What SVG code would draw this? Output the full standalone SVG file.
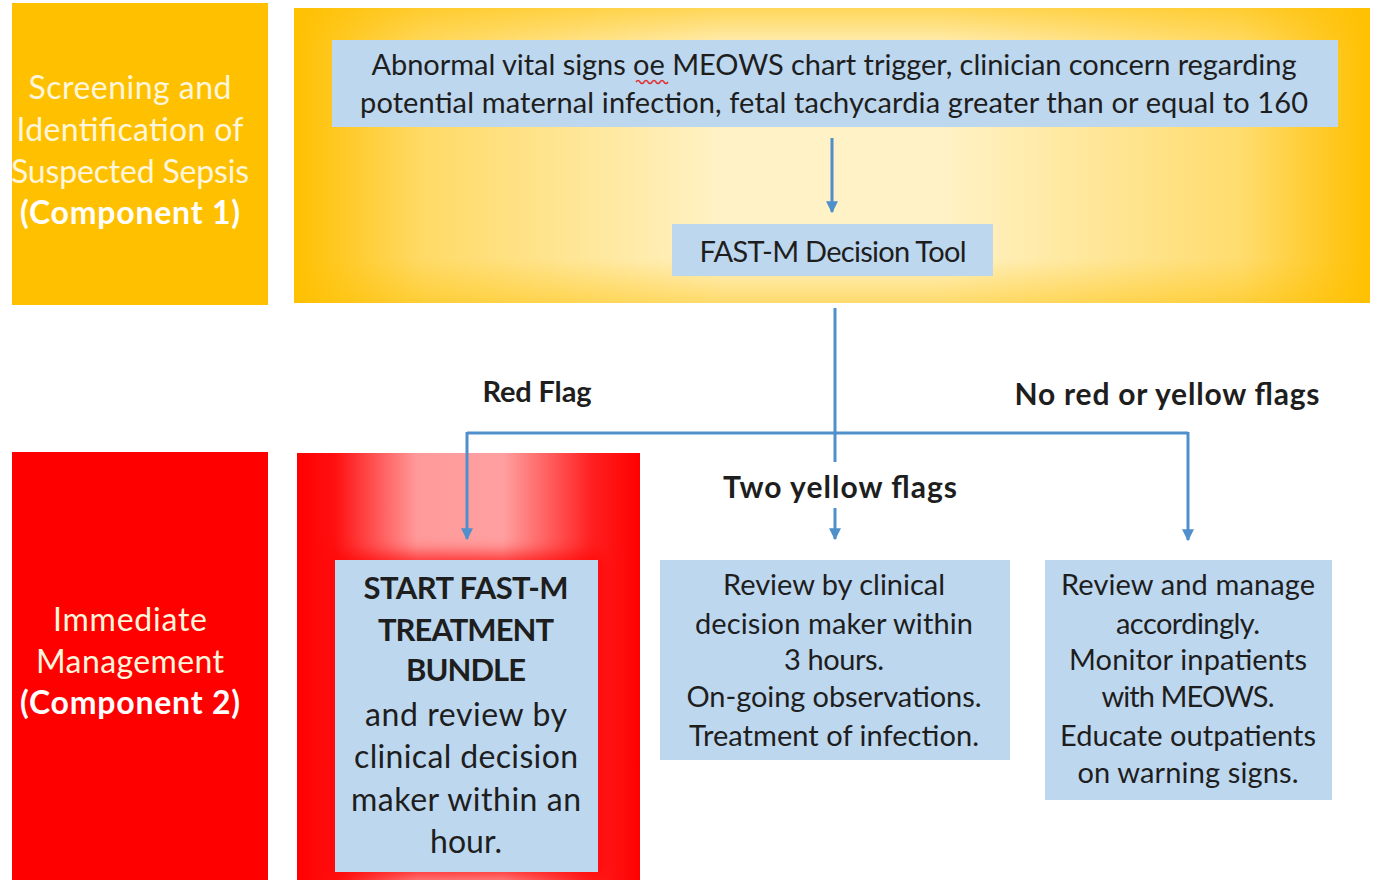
<svg xmlns="http://www.w3.org/2000/svg" width="1376" height="880" viewBox="0 0 1376 880">
<defs>
<linearGradient id="gTop" x1="0" y1="0" x2="1" y2="0">
<stop offset="0" stop-color="#FFC000"/>
<stop offset="0.12" stop-color="#FFDA66"/>
<stop offset="0.4" stop-color="#FFF2C6"/>
<stop offset="0.6" stop-color="#FFF2C6"/>
<stop offset="0.88" stop-color="#FFDC6E"/>
<stop offset="1" stop-color="#FFC000"/>
</linearGradient>
<linearGradient id="gTopV" x1="0" y1="0" x2="0" y2="1">
<stop offset="0" stop-color="#FFC000" stop-opacity="0.55"/>
<stop offset="0.15" stop-color="#FFC000" stop-opacity="0"/>
<stop offset="0.85" stop-color="#FFC000" stop-opacity="0"/>
<stop offset="1" stop-color="#FFC000" stop-opacity="0.45"/>
</linearGradient>
<linearGradient id="gRed" x1="0" y1="0" x2="1" y2="0">
<stop offset="0" stop-color="#FF0000"/>
<stop offset="0.11" stop-color="#FF1010"/>
<stop offset="0.35" stop-color="#FF9A9A"/>
<stop offset="0.6" stop-color="#FFA0A0"/>
<stop offset="0.86" stop-color="#FF2020"/>
<stop offset="1" stop-color="#FF0000"/>
</linearGradient>
<filter id="blur" x="-20%" y="-20%" width="140%" height="140%">
<feGaussianBlur stdDeviation="8"/>
</filter>
<marker id="ah" viewBox="0 0 10 10" refX="9" refY="5" markerWidth="4" markerHeight="4" orient="auto" markerUnits="strokeWidth">
<path d="M0,0 L10,5 L0,10 z" fill="#4F8FCB"/>
</marker>
<style>
.box{fill:#BDD7EE}
.t{font-family:Lato,"Open Sans","Liberation Sans",sans-serif;fill:#1E1E1E;text-anchor:middle}
.w{font-family:Lato,"Open Sans","Liberation Sans",sans-serif;fill:#FFF6DC;text-anchor:middle;font-size:32px}
.wb{font-weight:bold;fill:#FFFFFF}
.b{font-weight:bold}
.c{fill:none;stroke:#4F8FCB;stroke-width:3}
</style>
</defs>
<rect width="1376" height="880" fill="#FFFFFF"/>

<g id="lane1">
<rect x="12" y="3" width="256" height="302" fill="#FFC000"/>
<text class="w" x="130" y="99" textLength="203">Screening and</text>
<text class="w" x="130" y="141" textLength="227">Identification of</text>
<text class="w" x="130" y="183" textLength="238">Suspected Sepsis</text>
<text class="w wb" x="130" y="224" textLength="220">(Component 1)</text>
</g>

<g id="panel1">
<rect x="294" y="8" width="1076" height="295" fill="url(#gTop)"/>
<rect x="294" y="8" width="1076" height="295" fill="url(#gTopV)"/>
</g>

<g id="lane2">
<rect x="12" y="452" width="256" height="428" fill="#FF0000"/>
<text class="w" x="130" y="631" textLength="154">Immediate</text>
<text class="w" x="130" y="673" textLength="188">Management</text>
<text class="w wb" x="130" y="714" textLength="220">(Component 2)</text>
</g>

<g id="panel2">
<rect x="297" y="453" width="343" height="427" fill="url(#gRed)"/>
<rect x="332" y="554" width="270" height="324" fill="#FF0000" opacity="0.7" filter="url(#blur)"/>
</g>

<g id="trigger">
<rect class="box" x="332" y="40" width="1006" height="87"/>
<text class="t" font-size="29" x="834" y="75" textLength="925">Abnormal vital signs oe MEOWS chart trigger, clinician concern regarding</text>
<text class="t" font-size="29" x="834" y="113" textLength="948">potential maternal infection, fetal tachycardia greater than or equal to 160</text>
<path d="M636,82 q2,-3 4,0 t4,0 t4,0 t4,0 t4,0 t4,0 t4,0 t4,0" fill="none" stroke="#E03030" stroke-width="1.5"/>
</g>

<g id="decision">
<rect class="box" x="672" y="224" width="321" height="52"/>
<text class="t" font-size="29" x="833" y="262" textLength="267">FAST-M Decision Tool</text>
</g>

<g id="connectors">
<line class="c" x1="832" y1="138" x2="832" y2="212" marker-end="url(#ah)"/>
<line class="c" x1="835" y1="308" x2="835" y2="462"/>
<polyline class="c" points="467,433 1188,433"/>
<line class="c" x1="467" y1="432" x2="467" y2="539" marker-end="url(#ah)"/>
<line class="c" x1="835" y1="508" x2="835" y2="539" marker-end="url(#ah)"/>
<line class="c" x1="1188" y1="432" x2="1188" y2="540" marker-end="url(#ah)"/>
</g>

<g id="labels">
<text class="t b" font-size="29" x="537" y="402" textLength="109">Red Flag</text>
<text class="t b" font-size="30" x="1167" y="405" textLength="305">No red or yellow flags</text>
<text class="t b" font-size="30" x="840" y="498" textLength="234">Two yellow flags</text>
</g>

<g id="redflag">
<rect class="box" x="335" y="560" width="263" height="312"/>
<text class="t b" font-size="31" x="466" y="599" textLength="205">START FAST-M</text>
<text class="t b" font-size="31" x="466" y="641" textLength="176">TREATMENT</text>
<text class="t b" font-size="31" x="466" y="681" textLength="120">BUNDLE</text>
<text class="t" font-size="32" x="466" y="726" textLength="202">and review by</text>
<text class="t" font-size="32" x="466" y="768" textLength="224">clinical decision</text>
<text class="t" font-size="32" x="466" y="811" textLength="230">maker within an</text>
<text class="t" font-size="32" x="466" y="853" textLength="72">hour.</text>
</g>

<g id="yellowflags">
<rect class="box" x="660" y="560" width="350" height="200"/>
<text class="t" font-size="29" x="834" y="595" textLength="222">Review by clinical</text>
<text class="t" font-size="29" x="834" y="634" textLength="278">decision maker within</text>
<text class="t" font-size="29" x="834" y="670" textLength="100">3 hours.</text>
<text class="t" font-size="29" x="834" y="707" textLength="295">On-going observations.</text>
<text class="t" font-size="29" x="834" y="746" textLength="290">Treatment of infection.</text>
</g>

<g id="noflags">
<rect class="box" x="1045" y="560" width="287" height="240"/>
<text class="t" font-size="29" x="1188" y="595" textLength="254">Review and manage</text>
<text class="t" font-size="29" x="1188" y="634" textLength="144">accordingly.</text>
<text class="t" font-size="29" x="1188" y="670" textLength="238">Monitor inpatients</text>
<text class="t" font-size="29" x="1188" y="707" textLength="173">with MEOWS.</text>
<text class="t" font-size="29" x="1188" y="746" textLength="256">Educate outpatients</text>
<text class="t" font-size="29" x="1188" y="783" textLength="221">on warning signs.</text>
</g>
</svg>
